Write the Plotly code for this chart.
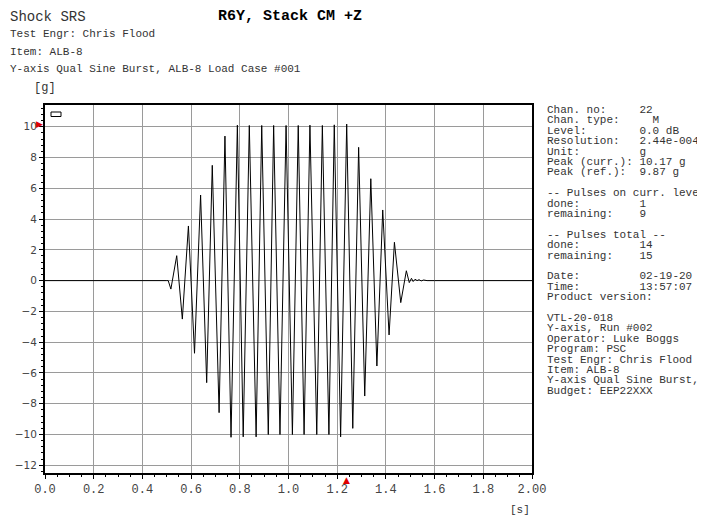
"""Shock SRS sine burst time history, R6Y Stack CM +Z."""

import plotly.graph_objects as go

# time of each turning point of the burst [s] and the acceleration there [g]
TIME_S = [
    0.000, 0.100, 0.200, 0.300, 0.400, 0.500, 0.506,
    0.517, 0.541, 0.564, 0.589, 0.614, 0.639, 0.664, 0.687, 0.715,
    0.739, 0.764, 0.790, 0.814, 0.839, 0.867, 0.890, 0.917, 0.939,
    0.965, 0.990, 1.016, 1.040, 1.064, 1.088, 1.116, 1.139, 1.166,
    1.188, 1.214, 1.239, 1.264, 1.288, 1.313, 1.338, 1.363, 1.387,
    1.413, 1.435, 1.461, 1.484, 1.496, 1.505, 1.512, 1.520, 1.528,
    1.536, 1.545, 1.555, 1.569, 1.600, 1.800, 2.000,
]
ACCEL_G = [
    0.00, 0.01, -0.01, 0.01, 0.00, 0.00, 0.00,
    -0.55, 1.62, -2.50, 3.55, -4.72, 5.56, -6.63, 7.49, -8.58,
    9.39, -10.18, 10.10, -10.15, 10.08, -10.15, 10.08, -10.00, 10.08,
    -10.00, 10.08, -10.00, 10.08, -10.00, 10.10, -10.00, 10.08, -10.00,
    10.12, -10.15, 10.17, -9.60, 8.66, -7.50, 6.62, -5.55, 4.59,
    -3.53, 2.49, -1.43, 0.64, -0.13, 0.15, -0.06, 0.09, 0.00,
    0.06, -0.02, 0.04, 0.00, 0.00, 0.01, 0.00,
]

PEAK_TIME_S = 1.24
PEAK_G = 10.17

X_TICKS = [0.0, 0.2, 0.4, 0.6, 0.8, 1.0, 1.2, 1.4, 1.6, 1.8, 2.0]
X_TICK_TEXT = ["0.0", "0.2", "0.4", "0.6", "0.8", "1.0", "1.2", "1.4", "1.6", "1.8", "2.00"]
Y_TICKS = [-12, -10, -8, -6, -4, -2, 0, 2, 4, 6, 8, 10]

HEADER_LINES = [
    "Test Engr: Chris Flood",
    "Item: ALB-8",
    "Y-axis Qual Sine Burst, ALB-8 Load Case #001",
]
INFO_LINES = [
    "Chan. no:     22",
    "Chan. type:     M",
    "Level:        0.0 dB",
    "Resolution:   2.44e-004",
    "Unit:         g",
    "Peak (curr.): 10.17 g",
    "Peak (ref.):  9.87 g",
    "",
    "-- Pulses on curr. level",
    "done:         1",
    "remaining:    9",
    "",
    "-- Pulses total --",
    "done:         14",
    "remaining:    15",
    "",
    "Date:         02-19-20",
    "Time:         13:57:07",
    "Product version:",
    "",
    "VTL-20-018",
    "Y-axis, Run #002",
    "Operator: Luke Boggs",
    "Program: PSC",
    "Test Engr: Chris Flood",
    "Item: ALB-8",
    "Y-axis Qual Sine Burst,",
    "Budget: EEP22XXX",
]

# the page body adds an 8 px margin, so the figure is drawn that much smaller
PAGE_PAD = 8
FIG_W, FIG_H = 705 - PAGE_PAD, 518 - PAGE_PAD
# plot area in window pixels
PLOT_L, PLOT_R, PLOT_T, PLOT_B = 45, 532, 105, 473
MONO = "Liberation Mono, Courier New, monospace"


def px(x):
    return (x - PLOT_L) / (PLOT_R - PLOT_L)


def py(y):
    return (PLOT_B - y) / (PLOT_B - PLOT_T)


def label(text, x, y, size=11, color="#333333"):
    return dict(
        text=text.replace(" ", "\u00a0"), x=px(x), y=py(y), xref="paper", yref="paper",
        xanchor="left", yanchor="middle", showarrow=False,
        font=dict(family=MONO, size=size, color=color), borderpad=0,
    )


fig = go.Figure()
fig.add_trace(go.Scatter(
    x=TIME_S, y=ACCEL_G, mode="lines",
    line=dict(color="#000000", width=1), showlegend=False,
))

annotations = [
    label("Shock SRS", 9, 17, size=14),
    label("<b>R6Y, Stack CM +Z</b>", 217, 16.5, size=15, color="#000000"),
    label("[g]", 33, 88, size=12),
    label("[s]", 509, 510, size=11),
    # peak markers on the axes
    dict(text="\u25b6", x=0, y=PEAK_G, xref="paper", yref="y",
         xanchor="right", yanchor="middle", showarrow=False, borderpad=0, xshift=-1,
         font=dict(family="DejaVu Sans", size=9, color="#e00000")),
    dict(text="\u25b2", x=PEAK_TIME_S, y=0, xref="x", yref="paper",
         xanchor="center", yanchor="top", showarrow=False, borderpad=0, yshift=-1,
         font=dict(family="DejaVu Sans", size=9, color="#e00000")),
]
for i, line in enumerate(HEADER_LINES):
    annotations.append(label(line, 9, 34 + 17.5 * i, size=11))
for i, line in enumerate(INFO_LINES):
    if line:
        annotations.append(label(line, 546, 110 + 10.4 * i, size=11))

fig.update_layout(
    width=FIG_W, height=FIG_H,
    margin=dict(l=PLOT_L - PAGE_PAD, r=705 - PLOT_R, t=PLOT_T - PAGE_PAD, b=518 - PLOT_B),
    paper_bgcolor="white", plot_bgcolor="white",
    annotations=annotations,
    shapes=[dict(type="rect", xref="paper", yref="paper",
                 x0=px(51), x1=px(61), y0=py(116.5), y1=py(112),
                 line=dict(color="#000000", width=1), fillcolor="white")],
)
fig.update_xaxes(
    range=[0, 2.0], tickvals=X_TICKS, ticktext=X_TICK_TEXT, automargin=False,
    showgrid=True, gridcolor="#9a9a9a", gridwidth=1, zeroline=False,
    showline=True, linecolor="#000000", linewidth=2, mirror=True,
    ticks="outside", ticklen=4, tickcolor="#000000",
    minor=dict(dtick=0.05, ticks="outside", ticklen=2, tickcolor="#000000", showgrid=False),
    tickfont=dict(family=MONO, size=12, color="#444444"),
)
fig.update_yaxes(
    range=[-12.5, 11.41], tickvals=Y_TICKS, automargin=False,
    showgrid=True, gridcolor="#9a9a9a", gridwidth=1, zeroline=False,
    showline=True, linecolor="#000000", linewidth=2, mirror=True,
    ticks="outside", ticklen=4, tickcolor="#000000",
    minor=dict(dtick=0.4, ticks="outside", ticklen=2, tickcolor="#000000", showgrid=False),
    tickfont=dict(family="DejaVu Sans, Arial, sans-serif", size=10.5, color="#444444"),
)

fig.write_html("out.html")
